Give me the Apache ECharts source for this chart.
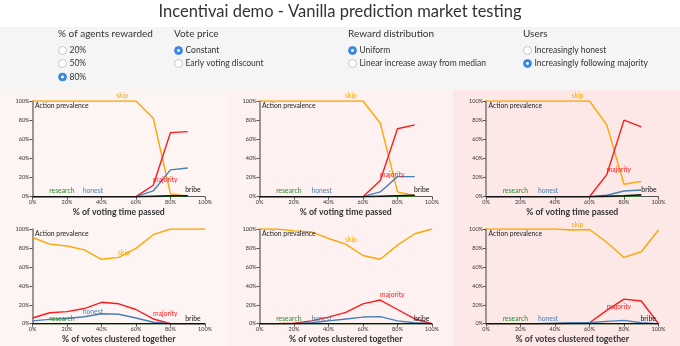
<!DOCTYPE html>
<html><head><meta charset="utf-8">
<script src="https://cdn.jsdelivr.net/npm/echarts@6/dist/echarts.min.js"></script>
<style>html,body{margin:0;padding:0;background:#fff}#c{width:680px;height:346px}</style>
</head><body><div id="c"></div>
<script>
// ---- data ----
const xTime = [0,10,20,30,40,50,60,70,80,90];
const xCluster = [0,10,20,30,40,50,60,70,80,90,100];
const yTicks = ['0%','20%','40%','60%','80%','100%'];

const skip1 = [100,100,100,100,100,100,100,82,3,0.5];
const majority1 = [0,0,0,0,0,0,0,12,67,68];
const honest1 = [0,0,0,0,0,0,0,6,28,30];
const research1 = [0,0,0,0,0,0,0,0,0.5,0.5];
const bribe1 = [0,0,0,0,0,0,0,0.5,1,1];

const skip2 = [100,100,100,100,100,100,100,77,5,1];
const majority2 = [0,0,0,0,0,0,0,17,71,75];
const honest2 = [0,0,0,0,0,0,0,5,21,21];
const research2 = [0,0,0,0,0,0,0,0,0.5,0.5];
const bribe2 = [0,0,0,0,0,0,0,0.5,1,1.5];

const skip3 = [100,100,100,100,100,100,100,75,13,16];
const majority3 = [0,0,0,0,0,0,0,23,80,73];
const honest3 = [0,0,0,0,0,0,0,1.5,6,7];
const research3 = [0,0,0,0,0,0,0,0,0.5,1];
const bribe3 = [0,0,0,0,0,0,0,0.5,1,2];

const skip4 = [91,84,82,78,68,70,79.5,94,100,100,100];
const majority4 = [6,11.6,12.7,16,22.6,21,15,5,0,0,0];
const honest4 = [3,4.6,5.5,7.3,10.5,10,6,1.5,0,0,0];
const research4 = [0,0,0,0,0,0,0,0,0,0,0];
const bribe4 = [0,0,0,0,0,0,0,0,0,0,0];

const skip5 = [100,100,98,97,90,84,72,68,83,95,100];
const majority5 = [0,0,0.5,3,7,12,21,25,15,5,0];
const honest5 = [0,0,0,1,3,5,7,7.5,3,1,0];
const research5 = [0,0,0,0,0,0,0,0,0,0,0];
const bribe5 = [0,0,0,0,0,0,0,0,0,0,0];

const skip6 = [100,100,100,100,100,99,99.5,86,70,76,99];
const majority6 = [0,0,0,0,0,0.5,1,14,26,24,0];
const honest6 = [0,0,0,0,0.5,1,1,2.5,3.5,1,0];
const research6 = [0,0,0,0,0,0,0,0,0,0,0];
const bribe6 = [0,0,0,0,0,0,0,0,0,0,0];

const seriesNames = ['skip','majority','honest','research','bribe'];
const xTitles = ['% of voting time passed','% of votes clustered together'];

// label anchor points (data coords) for series names, per chart; third entry = vertical pixel offset
const labelPos = [
  {skip:[52,100,-5],research:[17,6],honest:[35,6],majority:[77,18],bribe:[93,7]},
  {skip:[53,100,-5],research:[17,6],honest:[36,6],majority:[77,23],bribe:[94,7]},
  {skip:[53,100,-5],research:[17,6],honest:[36,6],majority:[77,28.6],bribe:[94.5,7.5]},
  {skip:[53,75],research:[17,5],honest:[35,12.4],majority:[77,10],bribe:[93,5]},
  {skip:[53,89],research:[17,5],honest:[36,5],majority:[77,30],bribe:[94,5]},
  {skip:[53,100,-4],research:[17,5],honest:[36,5],majority:[77,17.6],bribe:[94,5]}
];

const charts = [
  {x:xTime, d:{skip:skip1,majority:majority1,honest:honest1,research:research1,bribe:bribe1}},
  {x:xTime, d:{skip:skip2,majority:majority2,honest:honest2,research:research2,bribe:bribe2}},
  {x:xTime, d:{skip:skip3,majority:majority3,honest:honest3,research:research3,bribe:bribe3}},
  {x:xCluster, d:{skip:skip4,majority:majority4,honest:honest4,research:research4,bribe:bribe4}},
  {x:xCluster, d:{skip:skip5,majority:majority5,honest:honest5,research:research5,bribe:bribe5}},
  {x:xCluster, d:{skip:skip6,majority:majority6,honest:honest6,research:research6,bribe:bribe6}}
];

// ---- style / layout ----
const colors = {skip:'#ffa500',majority:'#ff1a1a',honest:'#4a7fb5',research:'#2e8b2e',bribe:'#111111'};
const FONT = 'Lato';
const gLeft = [32.5, 259.5, 486];
const gWidth = 172.5;
const rows = [{top:101, h:95.7}, {top:229, h:94.7}];
const panelX = [0, 227, 453, 680];
const panelBg = ['#fdf5f4','#fdf2f1','#fde8e8'];

const grid = [], xAxis = [], yAxis = [], series = [];
charts.forEach((c, i) => {
  const r = Math.floor(i/3), col = i%3;
  grid.push({left:gLeft[col], top:rows[r].top, width:gWidth, height:rows[r].h});
  xAxis.push({gridIndex:i, type:'value', min:0, max:100, interval:20,
    name:xTitles[r], nameLocation:'middle', nameGap:11,
    nameTextStyle:{fontFamily:FONT,fontSize:8.7,fontWeight:'bold',color:'#333'},
    axisLine:{lineStyle:{color:'#555',width:1}},
    axisTick:{show:true,length:3,lineStyle:{color:'#555'}},
    axisLabel:{fontFamily:FONT,fontSize:5.5,color:'#333',margin:3,formatter:v=>v+'%'},
    splitLine:{show:false}});
  yAxis.push({gridIndex:i, type:'value', min:0, max:100, interval:20,
    axisLine:{show:true,lineStyle:{color:'#777',width:1.5}},
    axisTick:{show:true,length:3,lineStyle:{color:'#555'}},
    axisLabel:{fontFamily:FONT,fontSize:5.5,color:'#333',margin:3,formatter:v=>yTicks[v/20]},
    splitLine:{show:false}});
  seriesNames.forEach(n => {
    const p = labelPos[i][n];
    series.push({type:'line', name:n, xAxisIndex:i, yAxisIndex:i,
      data:c.x.map((xv,k)=>[xv,c.d[n][k]]),
      showSymbol:false, silent:true, animation:false,
      lineStyle:{color:colors[n], width:1.4},
      z: n==='bribe'?5:3,
      markPoint:{symbol:'circle',symbolSize:0,silent:true,animation:false,
        data:[{coord:[p[0],p[1]], value:n}],
        label:{show:true,position:'inside',offset:[0,p[2]||0],formatter:n,fontFamily:FONT,fontSize:6.8,color:colors[n]}}
    });
  });
});

const graphic = [];
for (let r=0;r<2;r++) for (let c=0;c<3;c++) {
  graphic.push({type:'rect', z:-100, silent:true,
    shape:{x:panelX[c], y:r===0?90:215, width:panelX[c+1]-panelX[c], height:r===0?125:131},
    style:{fill:panelBg[c]}});
}
graphic.push({type:'rect', z:-100, silent:true, shape:{x:0,y:27,width:680,height:63}, style:{fill:'#f5f5f5'}});
graphic.push({type:'text', z:100, silent:true, style:{text:'Incentivai demo - Vanilla prediction market testing',
  x:340, y:12, textAlign:'center', textVerticalAlign:'middle', font:'16.5px '+FONT, fill:'#333'}});

const controls = [
  {x:58, head:'% of agents rewarded', items:['20%','50%','80%'], sel:2},
  {x:174, head:'Vote price', items:['Constant','Early voting discount'], sel:0},
  {x:348, head:'Reward distribution', items:['Uniform','Linear increase away from median'], sel:0},
  {x:523, head:'Users', items:['Increasingly honest','Increasingly following majority'], sel:1}
];
const itemY = [50.5, 63.5, 77];
controls.forEach(g => {
  graphic.push({type:'text', z:100, silent:true, style:{text:g.head, x:g.x, y:34, textVerticalAlign:'middle', font:'10px '+FONT, fill:'#333'}});
  g.items.forEach((t,k) => {
    const sel = k===g.sel;
    graphic.push({type:'circle', z:100, silent:true, shape:{cx:g.x+4.5, cy:itemY[k], r:4},
      style:{fill: sel?'#3a86e0':'#fff', stroke: sel?'#3a86e0':'#bbb', lineWidth:0.8}});
    if (sel) graphic.push({type:'circle', z:101, silent:true, shape:{cx:g.x+4.5, cy:itemY[k], r:1.4}, style:{fill:'#fff'}});
    graphic.push({type:'text', z:100, silent:true, style:{text:t, x:g.x+11.5, y:itemY[k], textVerticalAlign:'middle', font:'8.5px '+FONT, fill:'#333'}});
  });
});
charts.forEach((c,i) => {
  const r = Math.floor(i/3), col = i%3;
  graphic.push({type:'text', z:100, silent:true, style:{text:'Action prevalence', x:gLeft[col]+2.5, y:rows[r].top+4.5,
    textVerticalAlign:'middle', font:'6.8px '+FONT, fill:'#222'}});
});

const chart = echarts.init(document.getElementById('c'), null, {renderer:'canvas'});
chart.setOption({animation:false, grid, xAxis, yAxis, series, graphic});
</script></body></html>
